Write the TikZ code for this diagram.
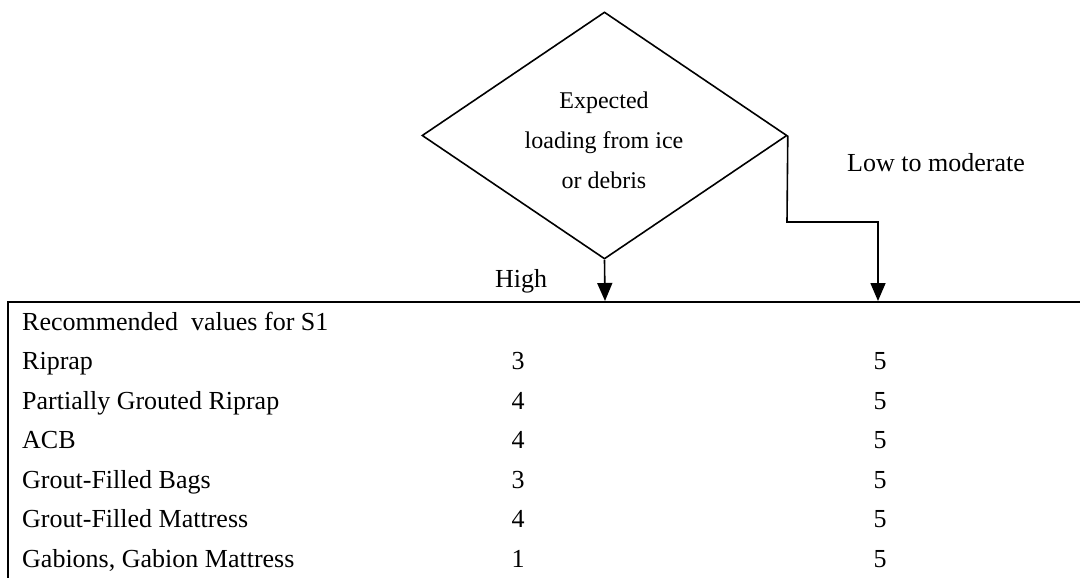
\documentclass[tikz,border=0pt]{standalone}
\usepackage{fontspec}
\setmainfont{Liberation Serif}
\usetikzlibrary{shapes.geometric,arrows.meta}
\begin{document}
\begin{tikzpicture}[x=1pt,y=-1pt,
  lbl/.style={font=\fontsize{26}{31}\selectfont, inner sep=0pt},
  rowlbl/.style={lbl, anchor=base west},
  num/.style={lbl, anchor=base},
  conn/.style={line width=1.6pt, -{Triangle[length=18pt,width=15pt]}},
  frame/.style={line width=2.2pt}]
\useasboundingbox (0,0) rectangle (1080,578);
\node[draw, line width=1.6pt, shape=diamond, aspect=1.48, inner sep=0pt,
      minimum width=365pt, minimum height=247pt] (d) at (604.5,135.5) {};
\node[align=center, inner sep=0pt, font=\fontsize{24}{40}\selectfont] (dt) at (604,140)
      {Expected\\loading from ice\\or debris};
\coordinate (hbot) at (605,301);
\coordinate (elb1) at (787,222);
\coordinate (elb2) at (878,222);
\coordinate (lbot) at (878,301);
\coordinate (tr) at (1080,302);
\coordinate (tl) at (8,302);
\coordinate (bl) at (8,578);
\draw[conn] (d.south) -- (hbot);
\draw[conn] (d.east) -- (elb1) -- (elb2) -- (lbot);
\draw[frame] (tr) -- (tl) -- (bl);
\node[lbl] (high) at (521,281) {High};
\node[lbl, anchor=west] (low) at (847,163) {Low to moderate};
\node[rowlbl] (r0) at (22,330) {Recommended\ \ values for S1};
\node[rowlbl] (r1) at (22,369.5) {Riprap};
\node[rowlbl] (r2) at (22,409) {Partially Grouted Riprap};
\node[rowlbl] (r3) at (22,448.5) {ACB};
\node[rowlbl] (r4) at (22,488) {Grout-Filled Bags};
\node[rowlbl] (r5) at (22,527.5) {Grout-Filled Mattress};
\node[rowlbl] (r6) at (22,567) {Gabions, Gabion Mattress};
\node[num] (a1) at (518,369.5) {3};
\node[num] (a2) at (518,409) {4};
\node[num] (a3) at (518,448.5) {4};
\node[num] (a4) at (518,488) {3};
\node[num] (a5) at (518,527.5) {4};
\node[num] (a6) at (518,567) {1};
\node[num] (b1) at (880,369.5) {5};
\node[num] (b2) at (880,409) {5};
\node[num] (b3) at (880,448.5) {5};
\node[num] (b4) at (880,488) {5};
\node[num] (b5) at (880,527.5) {5};
\node[num] (b6) at (880,567) {5};
\end{tikzpicture}
\end{document}
